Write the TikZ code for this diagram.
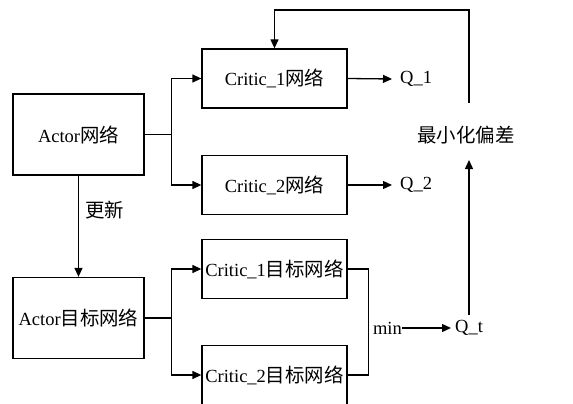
\documentclass[tikz,border=0pt]{standalone}
\usepackage{fontspec}
\setmainfont{Liberation Serif}
\newfontfamily\cjk[Scale=1.05]{Noto Sans CJK SC}
\usetikzlibrary{arrows.meta}
\tikzset{
  box/.style={draw, line width=1.3pt, minimum width=145pt, minimum height=59pt, inner sep=0pt},
  abox/.style={draw, line width=1.3pt, minimum width=131pt, minimum height=81pt, inner sep=0pt},
  lbl/.style={inner sep=0pt},
  conn/.style={line width=1.3pt},
  arr/.style={conn, -{Triangle[length=9pt,width=8pt]}},
}
\begin{document}
\begin{tikzpicture}[x=1pt,y=-1pt,font=\fontsize{18.5}{20}\selectfont]
\useasboundingbox (0,0) rectangle (573,404);
\clip (0,0) rectangle (573,404);
\node[abox] (a) at (78.5,134.5) {Actor{\cjk 网络}};
\node[abox] (at) at (78.5,318) {Actor{\cjk 目标网络}};
\node[box] (c1) at (274.5,78.5) {Critic\_1{\cjk 网络}};
\node[box] (c2) at (274.5,185) {Critic\_2{\cjk 网络}};
\node[box] (t1) at (274.5,269) {Critic\_1{\cjk 目标网络}};
\node[box] (t2) at (274.5,375) {Critic\_2{\cjk 目标网络}};
\node[lbl, anchor=west] (q1) at (400,79) {Q\_1};
\node[lbl, anchor=west] (q2) at (400,185) {Q\_2};
\node[lbl, anchor=west] (qt) at (455,328) {Q\_t};
\node[lbl, anchor=east] (mn) at (402,328) {min};
\node[lbl] (dev) at (466,135) {\cjk 最小化偏差};
\node[lbl, anchor=west] (upd) at (85,210) {\cjk 更新};
\coordinate (qtop) at (469,315);
\coordinate (dbot) at (469,160);
\coordinate (dtop) at (469,103);
\coordinate (fb) at (469,10);
% actor to critics
\draw[arr] (a.east) -- ++(27,0) |- (c1.west);
\draw[arr] (a.east) -- ++(27,0) |- (c2.west);
\draw[arr] (at.east) -- ++(27,0) |- (t1.west);
\draw[arr] (at.east) -- ++(27,0) |- (t2.west);
% outputs
\draw[arr] (c1.east) -- ([xshift=-8pt]q1.west);
\draw[arr] (c2.east) -- ([xshift=-8pt]q2.west);
% min bracket
\draw[conn] (t1.east) -- ++(21,0) |- (t2.east);
\draw[arr] (mn.east) -- ([xshift=-4pt]qt.west);
% feedback
\draw[arr] (qtop) -- (dbot);
\draw[arr] (dtop) -- (fb) -| (c1.north);
% update
\draw[arr] (a.south) -- (at.north);
\end{tikzpicture}
\end{document}
